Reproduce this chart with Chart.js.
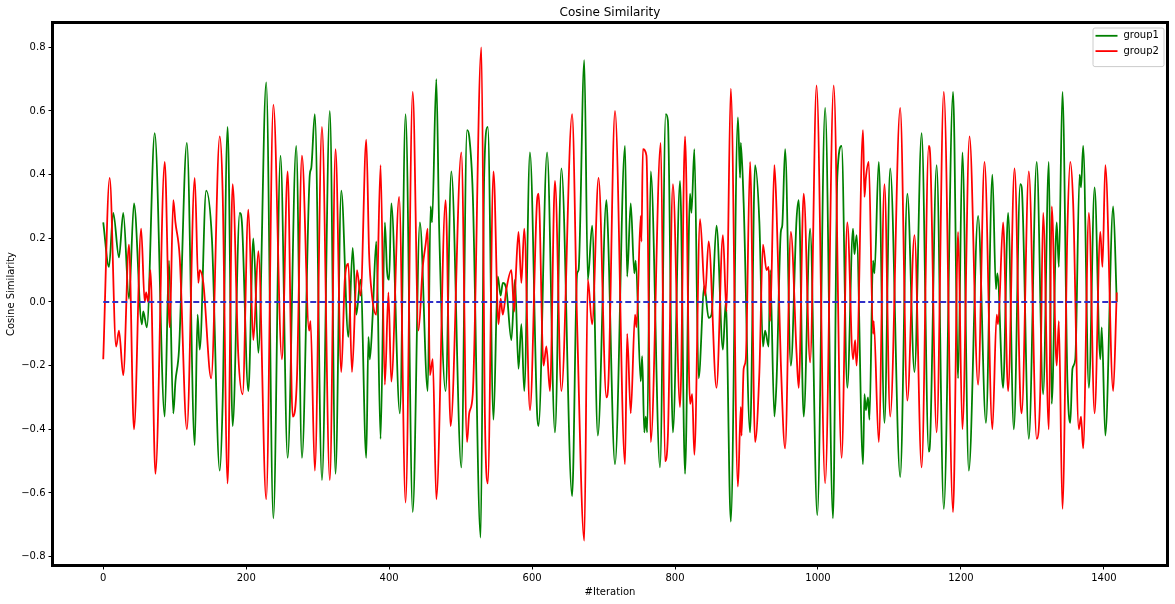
<!DOCTYPE html>
<html>
<head>
<meta charset="utf-8">
<title>Cosine Similarity</title>
<script src="https://cdn.jsdelivr.net/npm/chart.js@4.4.0/dist/chart.umd.min.js"></script>
<style>
  html, body { margin: 0; padding: 0; background: #fff; }
  canvas { display: block; }
</style>
</head>
<body>
<canvas id="cosChart" width="1175" height="604"></canvas>
<script>
const group1Iter = [
  0, 8, 14, 22, 28, 36, 43, 54, 56, 61, 72, 86, 92, 98, 101, 106, 117, 128, 132, 135,
  144, 152, 163, 167, 174, 181, 191, 194, 203, 210, 217, 228, 238, 248, 258, 270, 278, 289, 291, 296,
  306, 317, 325, 333, 343, 349, 354, 360, 368, 371, 373, 377, 382, 388, 394, 397, 400, 403, 415, 423,
  433, 443, 454, 458, 460, 466, 470, 479, 487, 501, 509, 512, 517, 528, 533, 538, 546, 552, 556, 559,
  564, 571, 576, 581, 585, 589, 597, 607, 609, 621, 632, 641, 656, 663, 665, 673, 678, 684, 692, 704,
  706, 716, 730, 733, 738, 743, 745, 752, 754, 757, 759, 761, 766, 779, 787, 790, 797, 807, 814, 821,
  823, 827, 833, 841, 847, 851, 858, 867, 871, 878, 888, 891, 892, 896, 905, 912, 918, 923, 926, 931,
  933, 939, 942, 948, 950, 954, 962, 970, 973, 980, 989, 999, 1010, 1021, 1027, 1033, 1041, 1049, 1051, 1054,
  1063, 1065, 1067, 1070, 1072, 1077, 1079, 1085, 1093, 1101, 1115, 1125, 1135, 1145, 1155, 1157, 1166, 1176, 1189, 1196,
  1202, 1211, 1224, 1235, 1244, 1249, 1251, 1259, 1266, 1274, 1283, 1285, 1295, 1306, 1315, 1323, 1327, 1334, 1337, 1342,
  1349, 1353, 1356, 1360, 1366, 1368, 1371, 1379, 1387, 1395, 1397, 1402, 1413, 1418
];
const group1Values = [
  0.25, 0.11, 0.28, 0.14, 0.28, 0.01, 0.31, -0.07, -0.03, -0.08, 0.53, -0.36, 0.13, -0.35, -0.25, -0.15, 0.50, -0.45, -0.04, -0.15,
  0.35, 0.20, -0.53, -0.32, 0.55, -0.39, 0.28, 0.25, -0.28, 0.20, -0.16, 0.69, -0.68, 0.46, -0.49, 0.49, -0.49, 0.40, 0.42, 0.59,
  -0.56, 0.60, -0.54, 0.35, -0.11, 0.17, -0.04, 0.07, -0.49, -0.11, -0.18, -0.04, 0.19, -0.43, 0.25, 0.10, 0.07, 0.31, -0.35, 0.59,
  -0.66, 0.25, -0.28, 0.30, 0.25, 0.70, 0.23, -0.28, 0.41, -0.52, 0.54, 0.52, 0.34, -0.74, 0.40, 0.55, -0.37, 0.08, 0.02, 0.06,
  0.04, -0.12, 0.07, -0.21, -0.07, -0.28, 0.47, -0.35, -0.39, 0.47, -0.41, 0.42, -0.61, 0.09, 0.10, 0.76, 0.07, 0.24, -0.42, 0.32,
  0.23, -0.51, 0.49, 0.08, 0.31, 0.09, 0.13, -0.25, -0.17, -0.41, -0.36, -0.41, 0.41, -0.52, 0.59, 0.57, -0.41, 0.38, -0.54, 0.34,
  0.28, 0.48, -0.24, 0.05, -0.05, -0.04, 0.24, -0.15, 0.00, -0.69, 0.58, 0.39, 0.50, 0.31, -0.41, 0.43, 0.25, -0.14, -0.09, -0.14,
  0.10, -0.36, -0.25, 0.22, 0.24, 0.48, -0.20, 0.26, 0.32, -0.36, 0.23, -0.67, 0.61, -0.68, 0.39, 0.49, -0.27, 0.23, 0.15, 0.21,
  -0.51, -0.29, -0.34, -0.30, -0.37, 0.13, 0.09, 0.44, -0.38, 0.42, -0.55, 0.34, -0.22, 0.53, -0.47, -0.43, 0.43, -0.65, 0.66, -0.24,
  0.47, -0.53, 0.27, -0.38, 0.40, 0.04, 0.09, -0.27, 0.28, -0.40, 0.37, 0.36, -0.43, 0.44, -0.29, 0.44, -0.32, 0.25, 0.11, 0.66,
  -0.25, -0.38, -0.21, -0.18, 0.40, 0.36, 0.49, -0.27, 0.36, -0.18, -0.08, -0.42, 0.30, 0.00
];

const group2Iter = [
  0, 9, 18, 22, 28, 36, 43, 53, 58, 60, 63, 66, 73, 86, 93, 98, 101, 107, 117, 128,
  133, 135, 140, 151, 163, 167, 174, 181, 189, 195, 203, 210, 217, 228, 238, 250, 258, 265, 271, 278,
  288, 290, 296, 306, 317, 325, 333, 338, 343, 348, 355, 360, 368, 372, 376, 382, 388, 394, 399, 403,
  414, 423, 433, 441, 447, 451, 454, 457, 461, 466, 479, 486, 501, 509, 512, 517, 529, 534, 538, 546,
  553, 556, 559, 564, 571, 575, 577, 581, 585, 589, 597, 607, 609, 616, 620, 625, 632, 641, 656, 663,
  673, 678, 684, 693, 704, 707, 716, 730, 733, 738, 744, 746, 752, 753, 755, 760, 766, 780, 786, 790,
  797, 807, 814, 821, 824, 827, 835, 842, 847, 858, 867, 872, 878, 888, 892, 893, 896, 899, 905, 912,
  918, 923, 928, 931, 933, 939, 942, 948, 954, 962, 970, 973, 980, 989, 998, 1010, 1022, 1033, 1041, 1049,
  1052, 1054, 1063, 1065, 1067, 1071, 1077, 1078, 1085, 1093, 1101, 1115, 1125, 1135, 1145, 1155, 1157, 1166, 1176, 1189,
  1196, 1202, 1212, 1224, 1233, 1244, 1250, 1252, 1259, 1266, 1275, 1283, 1285, 1295, 1306, 1311, 1315, 1323, 1327, 1334,
  1337, 1342, 1349, 1353, 1357, 1365, 1368, 1371, 1379, 1387, 1395, 1398, 1402, 1413, 1418
];
const group2Values = [
  -0.18, 0.39, -0.14, -0.09, -0.23, 0.18, -0.40, 0.23, 0.00, 0.03, 0.00, 0.10, -0.54, 0.44, -0.08, 0.32, 0.25, 0.14, -0.40, 0.39,
  0.06, 0.10, 0.06, -0.24, 0.52, 0.35, -0.57, 0.37, -0.17, -0.29, 0.29, -0.12, 0.16, -0.62, 0.62, -0.18, 0.41, -0.36, -0.24, 0.46,
  -0.09, -0.06, -0.53, 0.55, -0.56, 0.48, -0.22, 0.07, 0.12, -0.22, 0.10, 0.02, 0.51, 0.15, 0.02, -0.04, 0.43, -0.26, 0.03, -0.25,
  0.33, -0.63, 0.66, -0.09, 0.11, 0.18, 0.23, -0.23, -0.18, -0.62, 0.32, -0.39, 0.47, -0.44, -0.35, -0.29, 0.80, -0.36, -0.57, 0.41,
  -0.07, 0.01, -0.04, 0.04, 0.10, -0.03, 0.07, 0.22, 0.06, 0.23, -0.34, 0.32, 0.34, -0.20, -0.14, -0.28, 0.38, -0.28, 0.59, -0.07,
  -0.75, 0.07, -0.07, 0.39, -0.30, -0.24, 0.60, -0.51, -0.10, -0.35, -0.04, -0.08, 0.27, 0.19, 0.48, 0.46, -0.44, 0.50, -0.50, -0.42,
  0.37, -0.33, 0.52, -0.32, -0.29, -0.48, 0.26, 0.02, 0.19, -0.27, 0.21, -0.03, 0.67, -0.58, -0.33, -0.42, -0.21, -0.18, 0.44, -0.44,
  -0.22, 0.18, 0.10, 0.11, -0.06, 0.43, 0.29, -0.19, -0.46, 0.22, -0.16, -0.27, 0.34, -0.19, 0.68, -0.57, 0.68, -0.49, 0.25, -0.18,
  -0.12, -0.20, 0.54, 0.33, 0.39, 0.44, -0.10, -0.06, -0.44, 0.37, -0.36, 0.61, -0.31, 0.21, -0.52, 0.49, 0.46, -0.41, 0.66, -0.66,
  0.22, -0.40, 0.52, -0.26, 0.44, -0.40, -0.04, -0.07, 0.25, -0.28, 0.42, -0.30, -0.35, 0.41, -0.43, -0.28, 0.28, -0.40, 0.30, -0.20,
  -0.06, -0.65, 0.23, 0.44, 0.31, -0.40, -0.36, -0.46, 0.28, -0.35, 0.22, 0.11, 0.43, -0.28, 0.03
];

const zeroIter = [0, 1418];
const zeroValues = [0, 0];

const xTicks = [0, 200, 400, 600, 800, 1000, 1200, 1400];
const yTicks = [-0.8, -0.6, -0.4, -0.2, 0, 0.2, 0.4, 0.6, 0.8];

function toPoints(xs, ys) {
    return xs.map((x, i) => ({ x: x, y: ys[i] }));
}

Chart.defaults.font.family = '"DejaVu Sans", sans-serif';
Chart.defaults.font.size = 10;
Chart.defaults.color = '#000';

// box around the plot, title and the legend drawn inside the axes like matplotlib
const framePlugin = {
    id: 'frame',
    afterDraw(chart) {
        const ctx = chart.ctx;
        const a = chart.chartArea;
        ctx.save();
        ctx.strokeStyle = '#000';
        ctx.lineWidth = 3;
        ctx.strokeRect(a.left, a.top, a.right - a.left, a.bottom - a.top);

        ctx.fillStyle = '#000';
        ctx.font = '12px "DejaVu Sans"';
        ctx.textAlign = 'center';
        ctx.textBaseline = 'middle';
        ctx.fillText('Cosine Similarity', (a.left + a.right) / 2, 13);

        const items = chart.data.datasets.filter(d => d.label);
        const boxRight = a.right - 4;
        const boxLeft = boxRight - 71;
        const boxTop = a.top + 5;
        const rowH = 15.3;
        const boxH = 8 + rowH * items.length;
        ctx.beginPath();
        ctx.roundRect(boxLeft + 0.5, boxTop + 0.5, boxRight - boxLeft, boxH, 2);
        ctx.fillStyle = 'rgba(255,255,255,0.8)';
        ctx.fill();
        ctx.strokeStyle = '#cccccc';
        ctx.lineWidth = 1;
        ctx.stroke();

        ctx.font = '10px "DejaVu Sans"';
        ctx.textAlign = 'left';
        items.forEach((d, i) => {
            const y = boxTop + 8.3 + i * rowH;
            ctx.strokeStyle = d.borderColor;
            ctx.lineWidth = 1.8;
            ctx.beginPath();
            ctx.moveTo(boxLeft + 3, y);
            ctx.lineTo(boxLeft + 25, y);
            ctx.stroke();
            ctx.fillStyle = '#000';
            ctx.fillText(d.label, boxLeft + 31, y);
        });
        ctx.restore();
    }
};

const ctx = document.getElementById('cosChart').getContext('2d');

new Chart(ctx, {
    type: 'line',
    data: {
        datasets: [{
            label: 'group1',
            data: toPoints(group1Iter, group1Values),
            borderColor: '#008000',
            borderWidth: 1.8,
            cubicInterpolationMode: 'monotone',
            order: 2
        }, {
            label: 'group2',
            data: toPoints(group2Iter, group2Values),
            borderColor: '#ff0000',
            borderWidth: 1.8,
            cubicInterpolationMode: 'monotone',
            order: 1
        }, {
            label: '',
            data: toPoints(zeroIter, zeroValues),
            borderColor: '#3030c8',
            borderWidth: 2,
            borderDash: [6, 3],
            order: 0
        }]
    },
    options: {
        responsive: false,
        animation: false,
        layout: { padding: { left: 0, top: 22.5, right: 7.5, bottom: 0 } },
        elements: { point: { radius: 0 }, line: { fill: false } },
        plugins: {
            legend: { display: false },
            title: { display: false },
            tooltip: { enabled: false }
        },
        scales: {
            x: {
                type: 'linear',
                min: -71,
                max: 1489,
                afterBuildTicks: s => { s.ticks = xTicks.map(v => ({ value: v })); },
                afterFit: s => { s.height = 38.5; },
                border: { display: false },
                grid: { display: true, drawOnChartArea: false, drawTicks: true, tickLength: 4, color: '#000' },
                ticks: { callback: v => String(v), maxRotation: 0, autoSkip: false, padding: 3 },
                title: { display: true, text: '#Iteration', padding: { top: 0, bottom: 6 } }
            },
            y: {
                type: 'linear',
                min: -0.828,
                max: 0.878,
                afterBuildTicks: s => { s.ticks = yTicks.map(v => ({ value: v })); },
                afterFit: s => { s.width = 52.5; },
                border: { display: false },
                grid: { display: true, drawOnChartArea: false, drawTicks: true, tickLength: 4, color: '#000' },
                ticks: {
                    callback: v => (v < 0 ? '\u2212' : '') + Math.abs(v).toFixed(1),
                    autoSkip: false,
                    padding: 3
                },
                title: { display: true, text: 'Cosine Similarity', padding: { top: 5, bottom: 0 } }
            }
        }
    },
    plugins: [framePlugin]
});
</script>
</body>
</html>
